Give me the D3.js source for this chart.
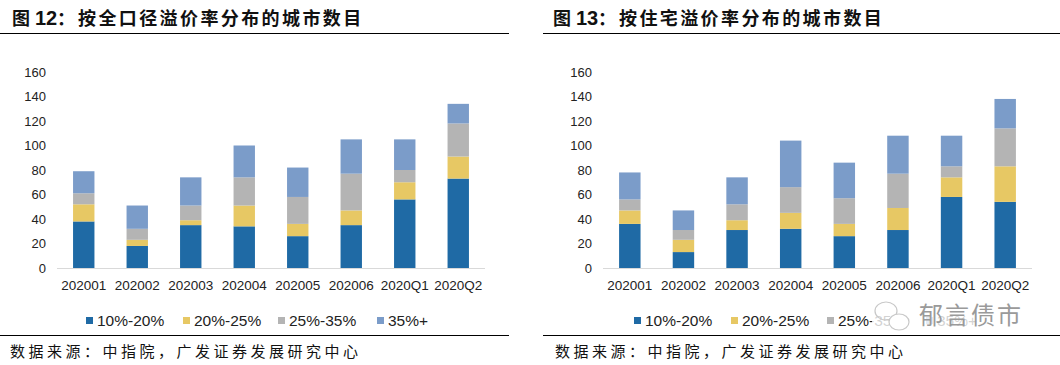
<!DOCTYPE html>
<html>
<head>
<meta charset="utf-8">
<script src="https://cdn.jsdelivr.net/npm/d3@7"></script>
<style>
  body { margin: 0; background: #fff; }
  svg { display: block; }
  .tick-label { font-family: Arial, "Liberation Sans", sans-serif; fill: #222; }
  .cjk { font-family: "Noto Sans CJK SC", sans-serif; fill: #111; }
</style>
</head>
<body>
<div id="chart"></div>
<script>
const WIDTH = 1060;
const HEIGHT = 365;

const categories = ['202001', '202002', '202003', '202004', '202005', '202006', '2020Q1', '2020Q2'];
const seriesNames = ['10%-20%', '20%-25%', '25%-35%', '35%+'];
const seriesColors = ['#1f6aa5', '#e7c864', '#b4b4b4', '#7b9cc9'];
const yTicks = [0, 20, 40, 60, 80, 100, 120, 140, 160];

// left chart: all sizes of housing
const allS1 = [38, 18, 35, 34, 26, 35, 56, 73];
const allS2 = [14, 5, 4, 17, 10, 12, 14, 18];
const allS3 = [9, 9, 12, 23, 22, 30, 10, 27];
const allS4 = [18, 19, 23, 26, 24, 28, 25, 16];

// right chart: residential only
const resS1 = [36, 13, 31, 32, 26, 31, 58, 54];
const resS2 = [11, 10, 8, 13, 10, 18, 16, 29];
const resS3 = [9, 8, 13, 21, 21, 28, 9, 31];
const resS4 = [22, 16, 22, 38, 29, 31, 25, 24];

const titleNums = ['12', '13'];
const titleTexts = ['按全口径溢价率分布的城市数目', '按住宅溢价率分布的城市数目'];
const sourceText = '数据来源：中指院，广发证券发展研究中心';

const svg = d3.select('#chart')
  .append('svg')
  .attr('width', WIDTH)
  .attr('height', HEIGHT);

svg.append('rect')
  .attr('width', WIDTH)
  .attr('height', HEIGHT)
  .attr('fill', '#fff');

function makeRows(s1, s2, s3, s4) {
  return categories.map((c, i) => ({
    cat: c,
    '10%-20%': s1[i],
    '20%-25%': s2[i],
    '25%-35%': s3[i],
    '35%+': s4[i]
  }));
}

function drawPanel(g, cfg) {

  // header: "图" + number + "：" + title text
  const t = g.append('text')
    .attr('class', 'cjk')
    .attr('y', 25)
    .attr('font-size', 18)
    .attr('font-weight', 'bold');
  t.append('tspan').attr('x', cfg.x0 + 12).text('图');
  t.append('tspan')
    .attr('x', cfg.x0 + 35)
    .style('font-family', 'Arial, "Liberation Sans", sans-serif')
    .attr('font-size', 20)
    .text(cfg.num);
  t.append('tspan').attr('x', cfg.x0 + 57).text('：');
  t.append('tspan')
    .attr('x', cfg.x0 + 78)
    .attr('letter-spacing', 2.4)
    .text(cfg.title);

  g.append('line')
    .attr('x1', cfg.lineX1).attr('x2', cfg.lineX2)
    .attr('y1', 33.5).attr('y2', 33.5)
    .attr('stroke', '#000')
    .attr('stroke-width', 1);

  const x = d3.scaleBand()
    .domain(categories)
    .range([cfg.plotLeft, cfg.plotRight])
    .paddingInner(0.6)
    .paddingOuter(0.3);

  const y = d3.scaleLinear()
    .domain([0, 160])
    .range([268, 72]);

  const stack = d3.stack().keys(seriesNames);
  const layers = stack(cfg.rows);

  g.append('g')
    .selectAll('g')
    .data(layers)
    .join('g')
      .attr('fill', (d, i) => seriesColors[i])
    .selectAll('rect')
    .data(d => d)
    .join('rect')
      .attr('x', d => x(d.data.cat))
      .attr('width', x.bandwidth())
      .attr('y', d => y(d[1]))
      .attr('height', d => y(d[0]) - y(d[1]));

  // baseline
  g.append('line')
    .attr('x1', cfg.plotLeft).attr('x2', cfg.plotRight)
    .attr('y1', y(0) + 0.5).attr('y2', y(0) + 0.5)
    .attr('stroke', '#d9d9d9');

  // y axis labels
  g.append('g')
    .selectAll('text')
    .data(yTicks)
    .join('text')
      .attr('class', 'tick-label')
      .attr('x', cfg.yLabelX)
      .attr('y', d => y(d))
      .attr('dy', '0.35em')
      .attr('text-anchor', 'end')
      .attr('font-size', 13)
      .text(d => d);

  // x axis labels
  g.append('g')
    .selectAll('text')
    .data(categories)
    .join('text')
      .attr('class', 'tick-label')
      .attr('x', d => x(d) + x.bandwidth() / 2)
      .attr('y', 290)
      .attr('text-anchor', 'middle')
      .attr('font-size', 13.5)
      .text(d => d);

  // legend
  const legend = g.append('g')
    .selectAll('g')
    .data(seriesNames)
    .join('g')
      .attr('transform', (d, i) => `translate(${cfg.legendX[i]}, 320)`);

  legend.append('rect')
    .attr('x', 0).attr('y', -3)
    .attr('width', 7).attr('height', 7)
    .attr('fill', (d, i) => seriesColors[i]);

  legend.append('text')
    .attr('class', 'tick-label')
    .attr('x', 11)
    .attr('y', 0)
    .attr('dy', '0.38em')
    .attr('font-size', 15.5)
    .text(d => d);

  g.append('line')
    .attr('x1', cfg.lineX1).attr('x2', cfg.lineX2)
    .attr('y1', 335.5).attr('y2', 335.5)
    .attr('stroke', '#000');

  g.append('text')
    .attr('class', 'cjk')
    .attr('x', cfg.sourceX)
    .attr('y', 357)
    .attr('font-size', 15)
    .attr('letter-spacing', 3.5)
    .text(sourceText);
}

drawPanel(svg.append('g'), {
  x0: 0,
  num: titleNums[0],
  title: titleTexts[0],
  lineX1: 0, lineX2: 509,
  plotLeft: 57, plotRight: 485,
  yLabelX: 46,
  legendX: [86, 183, 278, 377],
  sourceX: 10,
  rows: makeRows(allS1, allS2, allS3, allS4)
});

drawPanel(svg.append('g'), {
  x0: 541,
  num: titleNums[1],
  title: titleTexts[1],
  lineX1: 543, lineX2: 1060,
  plotLeft: 603, plotRight: 1032,
  yLabelX: 592,
  legendX: [634, 731, 827, 926],
  sourceX: 555,
  rows: makeRows(resS1, resS2, resS3, resS4)
});

// watermark (wechat-style icon + account name)
const wm = svg.append('g');
wm.append('rect')
  .attr('x', 872).attr('y', 303)
  .attr('width', 158).attr('height', 28)
  .attr('fill', '#fff')
  .attr('opacity', 0.8);
wm.append('ellipse')
  .attr('cx', 886).attr('cy', 311).attr('rx', 11).attr('ry', 9)
  .attr('fill', 'none').attr('stroke', '#c8c8c8').attr('stroke-width', 1.2);
wm.append('ellipse')
  .attr('cx', 899).attr('cy', 322).attr('rx', 10).attr('ry', 8)
  .attr('fill', '#fff').attr('stroke', '#c8c8c8').attr('stroke-width', 1.2);
wm.append('text')
  .attr('class', 'cjk')
  .attr('x', 919)
  .attr('y', 324)
  .attr('font-size', 24)
  .attr('letter-spacing', 2)
  .style('fill', '#9a9a9a')
  .text('郁言债市');
</script>
</body>
</html>
